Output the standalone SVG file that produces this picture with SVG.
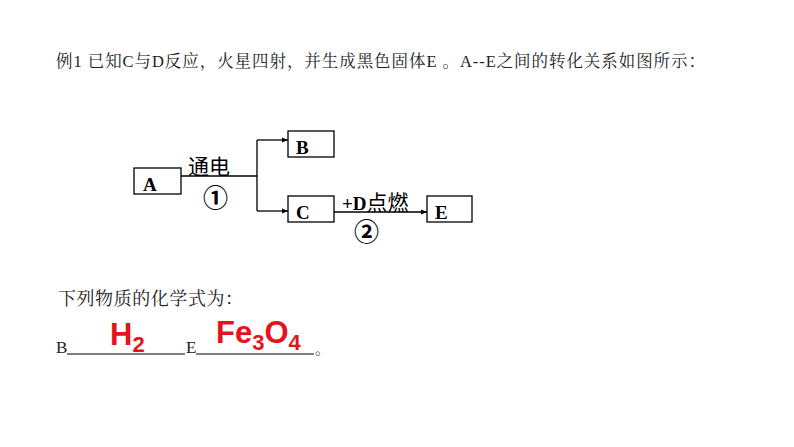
<svg xmlns="http://www.w3.org/2000/svg" width="794" height="447" viewBox="0 0 794 447">
<style>
.box{fill:#fff;stroke:#000;stroke-width:1.3}
.lbl{font-family:"Liberation Serif",serif;font-weight:bold;font-size:19px;fill:#000}
.cn{font-family:"Noto Sans CJK SC",sans-serif;font-size:21px;fill:#000}
.num{font-family:"Noto Sans CJK SC",sans-serif;font-size:25px;font-weight:bold;fill:#000}
.ser{font-family:"Liberation Serif","Noto Serif CJK SC","Noto Sans CJK SC",serif;fill:#222}
.red{font-family:"Liberation Sans",Arial,sans-serif;font-weight:bold;fill:#e3141b}
.ln{fill:none;stroke:#000;stroke-width:1.3}
</style>
<defs>
<marker id="ar" viewBox="0 0 10 10" refX="10" refY="5" markerWidth="6" markerHeight="6" orient="auto" markerUnits="userSpaceOnUse">
<path d="M0,1 L10,5 L0,9 z" fill="#000"/>
</marker>
</defs>
<rect width="794" height="447" fill="#fff"/>
<text class="ser" x="56" y="67" font-size="16.5" textLength="649" lengthAdjust="spacing">例1 已知C与D反应，火星四射，并生成黑色固体E 。A--E之间的转化关系如图所示：</text>
<g id="connectors">
<path class="ln" d="M181,176 H257 M257,140 V211"/>
<path class="ln" d="M257,140 H288" marker-end="url(#ar)"/>
<path class="ln" d="M257,211 H288" marker-end="url(#ar)"/>
<path class="ln" d="M334,212 H427" marker-end="url(#ar)"/>
<text class="cn" x="188" y="174">通电</text>
<text class="num" x="203" y="207">①</text>
<text class="lbl" x="342" y="210" font-size="20">+D<tspan class="cn" style="font-weight:normal" font-size="20">点燃</tspan></text>
<text class="num" x="354" y="241">②</text>
</g>
<g id="A"><rect class="box" x="134" y="168" width="47" height="26"/><text class="lbl" x="143" y="191">A</text></g>
<g id="B"><rect class="box" x="288" y="131" width="46" height="26"/><text class="lbl" x="296" y="154">B</text></g>
<g id="C"><rect class="box" x="288" y="196" width="46" height="26"/><text class="lbl" x="296" y="219">C</text></g>
<g id="E"><rect class="box" x="427" y="196" width="45" height="26"/><text class="lbl" x="435" y="219">E</text></g>
<text class="ser" x="58" y="305" font-size="18" textLength="185" lengthAdjust="spacing">下列物质的化学式为：</text>
<text class="ser" x="56" y="353" font-size="17">B</text>
<line x1="67" y1="354" x2="185" y2="354" stroke="#000" stroke-width="1"/>
<text class="ser" x="186" y="353" font-size="17">E</text>
<line x1="196" y1="354" x2="314" y2="354" stroke="#000" stroke-width="1"/>
<text class="ser" x="315" y="354" font-size="15">。</text>
<text class="red" x="110" y="345" font-size="31">H<tspan font-size="22" dy="7">2</tspan></text>
<text class="red" x="216" y="343" font-size="31">Fe<tspan font-size="22" dy="7">3</tspan><tspan dy="-7">O</tspan><tspan font-size="22" dy="7">4</tspan></text>
</svg>
